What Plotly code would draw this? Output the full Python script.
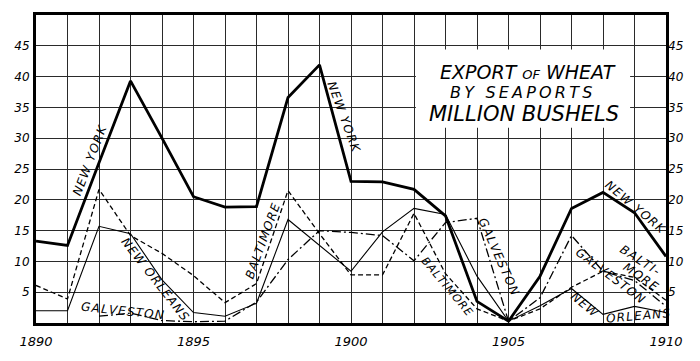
import plotly.graph_objects as go

years = list(range(1890, 1911))
new_york = [13.3, 12.6, 26.0, 39.3, 30.0, 20.5, 18.8, 18.9, 36.6, 41.9, 23.0,
            22.9, 21.7, 17.4, 3.5, 0.3, 7.6, 18.6, 21.2, 17.9, 10.8]
new_orleans = [2.0, 2.0, 15.7, 14.5, 7.0, 1.7, 1.1, 3.2, 16.8, 12.6, 8.4,
               14.8, 18.6, 17.6, 7.6, 0.3, 2.8, 5.6, 1.4, 2.7, 1.7]
baltimore = [6.1, 3.9, 21.7, 14.2, 11.3, 7.7, 3.3, 6.4, 21.5, 14.5, 7.8,
             7.8, 17.8, 8.0, 2.3, 0.3, 2.3, 5.8, 8.4, 7.4, 3.7]
galveston = [None, None, 1.1, 1.6, 0.4, 0.2, 0.3, 3.4, 10.3, 15.0, 14.7,
             14.2, 10.1, 16.3, 17.0, 0.3, 4.1, 14.2, 8.4, 6.9, 2.7]

x_ticktext = [str(y) if y % 5 == 0 else "" for y in years]
y_tickvals = list(range(0, 51, 5))
y_ticktext = ["" if v in (0, 50) else str(v) for v in y_tickvals]

FONT = "DejaVu Sans"

fig = go.Figure()
fig.add_trace(go.Scatter(x=years, y=baltimore, mode="lines", name="Baltimore",
                         line=dict(color="black", width=1.3, dash="5px,3px")))
fig.add_trace(go.Scatter(x=years, y=galveston, mode="lines", name="Galveston",
                         line=dict(color="black", width=1.3, dash="9px,3px,2px,3px")))
fig.add_trace(go.Scatter(x=years, y=new_orleans, mode="lines", name="New Orleans",
                         line=dict(color="black", width=1.1)))
fig.add_trace(go.Scatter(x=years, y=new_york, mode="lines", name="New York",
                         line=dict(color="black", width=2.8)))
fig.add_trace(go.Scatter(x=[1890], y=[0], yaxis="y2", mode="markers",
                         marker=dict(opacity=0), showlegend=False, hoverinfo="skip"))

def spaced(s, sep="\u200a"):
    return sep.join(s)

def lab(text, x, y, angle, size=12):
    fig.add_annotation(x=x, y=y, xref="x", yref="y", text=spaced(text), showarrow=False,
                       textangle=angle,
                       font=dict(family=FONT, size=size, color="black", style="italic"))

lab("NEW YORK", 1891.71, 26.5, -69)
lab("NEW YORK", 1899.78, 33.5, 70)
lab("NEW ORLEANS", 1893.78, 7.2, 52)
lab("GALVESTON", 1892.76, 1.9, 6)
lab("BALTIMORE", 1897.2, 13.3, -70)
lab("BALTIMORE", 1903.05, 6.0, 50, 11)
lab("GALVESTON", 1904.67, 10.8, 66)
lab("NEW YORK", 1909.02, 18.8, 40)
lab("BALTI-", 1909.17, 10.3, 33)
lab("MORE", 1909.2, 7.5, 35)
lab("GALVESTON", 1908.25, 7.7, 37)
lab("NEW", 1907.43, 3.0, 40)
lab("ORLEANS", 1909.11, 1.1, -5)

# title box
fig.add_shape(type="rect", x0=1902.06, x1=1908.86, y0=31.7, y1=44.4,
              xref="x", yref="y", fillcolor="white", line=dict(width=0), layer="above")
fig.add_annotation(x=1905.62, y=40.7, xref="x", yref="y", showarrow=False,
                   text="EXPORT <span style='font-size:13px'>OF</span> WHEAT",
                   font=dict(family=FONT, size=19, color="black", style="italic"))
fig.add_annotation(x=1905.39, y=37.4, xref="x", yref="y", showarrow=False,
                   text=spaced("BY SEAPORTS", "\u2009"),
                   font=dict(family=FONT, size=16, color="black", style="italic"))
fig.add_annotation(x=1905.50, y=34.0, xref="x", yref="y", showarrow=False,
                   text="MILLION BUSHELS",
                   font=dict(family=FONT, size=21, color="black", style="italic"))

tickfont = dict(family=FONT, size=12, color="black", style="italic")
fig.update_layout(
    width=700, height=361,
    margin=dict(l=36, r=34, t=15, b=27),
    paper_bgcolor="white", plot_bgcolor="white",
    showlegend=False,
    xaxis=dict(range=[1890, 1910], tickvals=years, ticktext=x_ticktext,
               showgrid=True, gridcolor="#2a2a2a", gridwidth=1, zeroline=False,
               showline=True, linecolor="black", linewidth=3, mirror=True,
               ticks="", ticklabelstandoff=4,
               tickfont=dict(family=FONT, size=13, color="black", style="italic")),
    yaxis=dict(range=[0, 50], tickvals=y_tickvals, ticktext=y_ticktext,
               showgrid=True, gridcolor="#2a2a2a", gridwidth=1, zeroline=False,
               showline=True, linecolor="black", linewidth=3, mirror=True,
               ticks="", ticklabelstandoff=1, tickfont=tickfont),
    yaxis2=dict(range=[0, 50], tickvals=y_tickvals, ticktext=y_ticktext,
                overlaying="y", side="right", showgrid=False, zeroline=False,
                showline=False, ticks="", ticklabelstandoff=1, tickfont=tickfont),
)

fig.write_html("out.html", config={"displayModeBar": False},
               post_script="document.body.style.margin='0';document.body.style.overflow='hidden';")
